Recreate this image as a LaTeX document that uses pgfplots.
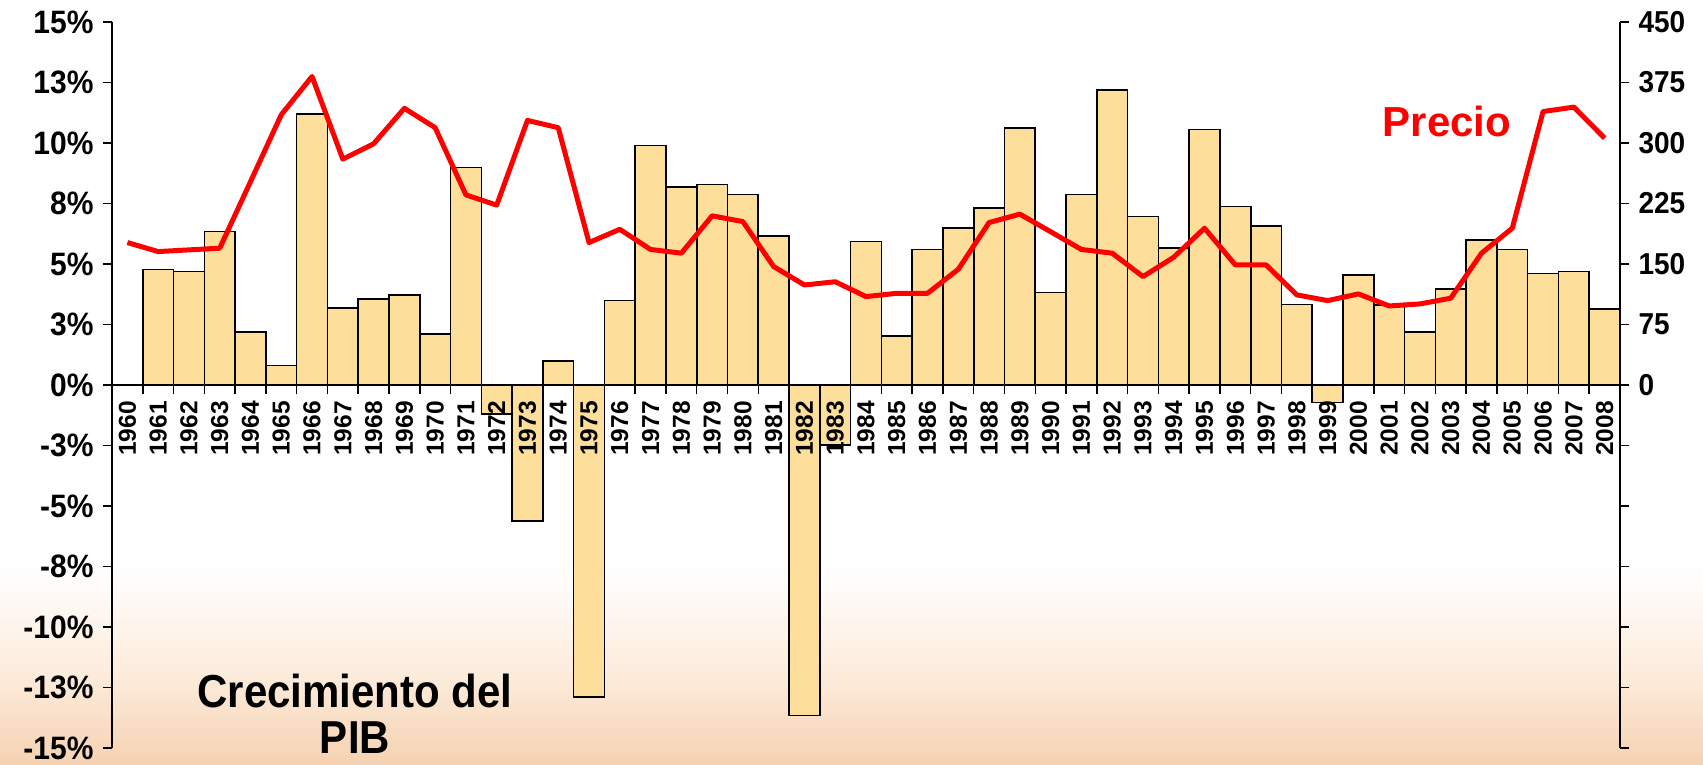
\documentclass[border=0pt]{standalone}
\usepackage{fontspec}
\setmainfont{Liberation Sans}
\usepackage{graphicx}
\usepackage{pgfplots}
\pgfplotsset{compat=1.18}
\definecolor{barfill}{RGB}{254,222,155}
\definecolor{peach}{RGB}{246,210,178}
\definecolor{peachlight}{RGB}{252,236,220}
\newcommand\sq[1]{\scalebox{1}[1.08]{#1}}
\newcommand\lt[1]{\sq{#1}}
\begin{document}
\begin{tikzpicture}[x=1pt,y=1pt]
\useasboundingbox (0,0) rectangle (1703,764);
\fill[white] (0,0) rectangle (1703,764);
\shade[top color=peachlight, bottom color=peach] (0,0) rectangle (1703,90);
\shade[top color=white, bottom color=peachlight] (0,89.5) rectangle (1703,200);
\begin{axis}[
  at={(112pt,16pt)}, anchor=south west,
  scale only axis, width=1508pt, height=726pt,
  xmin=-0.5, xmax=48.5, ymin=-15, ymax=15,
  axis on top,
  axis x line=middle, axis y line=left,
  axis line style={-, line width=1.5pt},
  every inner x axis line/.append style={-},
  every outer y axis line/.append style={-},
  hide obscured x ticks=false, hide obscured y ticks=false,
  tick style={black, line width=1.5pt},
  major tick length=9pt,
  tick align=outside,
  xtick={-0.5,0.5,...,48.5},
  x tick label as interval,
  xticklabels={1960,1961,1962,1963,1964,1965,1966,1967,1968,1969,1970,1971,1972,1973,1974,1975,1976,1977,1978,1979,1980,1981,1982,1983,1984,1985,1986,1987,1988,1989,1990,1991,1992,1993,1994,1995,1996,1997,1998,1999,2000,2001,2002,2003,2004,2005,2006,2007,2008},
  xticklabel style={yshift=-5pt, rotate=90, anchor=east, font=\bfseries\fontsize{24.5}{24.5}\selectfont, inner sep=2pt},
  ytick={-15,-12.5,...,15},
  yticklabels={\lt{-15\%},\lt{-13\%},\lt{-10\%},\lt{-8\%},\lt{-5\%},\lt{-3\%},\lt{0\%},\lt{3\%},\lt{5\%},\lt{8\%},\lt{10\%},\lt{13\%},\lt{15\%}},
  yticklabel style={font=\bfseries\fontsize{30}{30}\selectfont, xshift=-6pt},
  clip=false,
]
\addplot[ybar, bar width=1, fill=barfill, draw=black, line width=1.6pt] coordinates {
(1,4.78) (2,4.69) (3,6.34) (4,2.19) (5,0.80) (6,11.19) (7,3.17) (8,3.56) (9,3.73) (10,2.11)
(11,8.99) (12,-1.2) (13,-5.61) (14,0.99) (15,-12.89) (16,3.49) (17,9.90) (18,8.18) (19,8.28) (20,7.87)
(21,6.16) (22,-13.65) (23,-2.48) (24,5.93) (25,2.03) (26,5.60) (27,6.48) (28,7.31) (29,10.63) (30,3.82)
(31,7.87) (32,12.19) (33,6.96) (34,5.67) (35,10.55) (36,7.37) (37,6.58) (38,3.32) (39,-0.73) (40,4.54)
(41,3.30) (42,2.19) (43,3.96) (44,6.00) (45,5.60) (46,4.60) (47,4.69) (48,3.14)
};
\end{axis}
\begin{axis}[
  at={(112pt,16pt)}, anchor=south west,
  scale only axis, width=1508pt, height=726pt,
  xmin=-0.5, xmax=48.5, ymin=-450, ymax=450,
  axis x line=none, axis y line=right,
  axis line style={-, line width=1.5pt},
  every outer y axis line/.append style={-},
  tick style={black, line width=1.5pt},
  major tick length=9pt,
  tick align=outside,
  ytick={-450,-375,...,450},
  yticklabels={,,,,,,\sq{0},\sq{75},\sq{150},\sq{225},\sq{300},\sq{375},\sq{450}},
  yticklabel style={font=\bfseries\fontsize{28}{28}\selectfont, xshift=6pt},
  clip=false,
]
\addplot[red, line width=5pt, line join=round, mark=none] coordinates {
(0,176.6) (1,165.4) (2,167.5) (3,169.6) (4,252) (5,335) (6,382.5) (7,280) (8,299) (9,343)
(10,319) (11,235.7) (12,223) (13,328) (14,319) (15,176.6) (16,193) (17,168) (18,163.4) (19,209.7)
(20,202.6) (21,146.8) (22,124) (23,128) (24,109.6) (25,113.7) (26,113.7) (27,143.5) (28,201.4) (29,211.8)
(30,190) (31,168) (32,163.4) (33,134.4) (34,158.4) (35,194.4) (36,148.9) (37,148.9) (38,111.7) (39,104.6)
(40,112.9) (41,98) (42,100.5) (43,107.6) (44,163.4) (45,194.4) (46,339) (47,344.5) (48,306)
};
\end{axis}
\node[red, font=\bfseries\fontsize{42}{42}\selectfont] at (1447,643) {Precio};
\node[anchor=base, font=\bfseries\fontsize{42}{42}\selectfont, inner sep=0pt] at (355,57) {\scalebox{1}[1.1]{Crecimiento del}};
\node[anchor=base, font=\bfseries\fontsize{42}{42}\selectfont, inner sep=0pt] at (355,11) {\scalebox{1}[1.1]{PIB}};
\end{tikzpicture}
\end{document}
